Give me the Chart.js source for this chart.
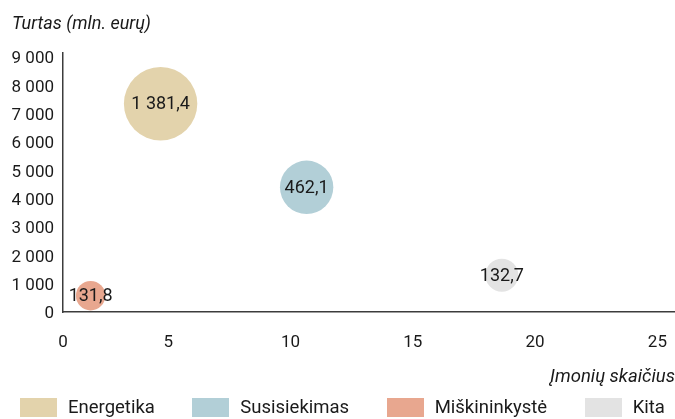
<!DOCTYPE html>
<html lang="lt">
<head>
<meta charset="utf-8">
<title>Turtas ir įmonių skaičius</title>
<script src="https://cdn.jsdelivr.net/npm/chart.js@4.4.1/dist/chart.umd.min.js"></script>
<style>
html, body { margin: 0; padding: 0; background: #ffffff; overflow: hidden; }
#wrap { position: relative; width: 675px; height: 419px; }
#legend {
    position: absolute; left: 20px; top: 398px;
    display: flex; gap: 37.5px;
    font-family: Roboto, sans-serif;
    font-size: 18.5px; color: #1a1a1a;
    white-space: nowrap;
}
.item { display: flex; align-items: center; height: 19px; }
.box { width: 37px; height: 19px; }
.item span { margin-left: 11px; line-height: 19px; }
</style>
</head>
<body>
<div id="wrap">
    <canvas id="chart"></canvas>
    <div id="legend"></div>
</div>
<script>
// ===========================================
// DATA
// ===========================================

const sectors = ["Energetika", "Susisiekimas", "Miškininkystė", "Kita"];

// x - įmonių skaičius, y - turtas (mln. eurų)
const companies = [4.69, 10.66, 1.83, 18.64];
const assets = [7350, 4400, 575, 1300];

// value printed inside the bubble
const bubbleValues = [1381.4, 462.1, 131.8, 132.7];
const bubbleRadius = [36.7, 26.7, 14.7, 16.5];

const colors = ["#e3d3ac", "#b2cfd7", "#e8a78f", "#e3e3e3"];

const yTicks = [0, 1000, 2000, 3000, 4000, 5000, 6000, 7000, 8000, 9000];
const xTicks = [0, 5, 10, 15, 20, 25];

const FONT = "Roboto, sans-serif";
const TEXT = "#1a1a1a";

// x axis starts a bit right of zero in the original
const X_MIN = 0.7;
const X_MAX = 25.72;

// ===========================================
// HELPERS
// ===========================================

function groupThousands(str){
    return str.replace(/\B(?=(\d{3})+(?!\d))/g, " ");
}

function formatValue(v){
    const parts = v.toFixed(1).split(".");
    return groupThousands(parts[0]) + "," + parts[1];
}

// ===========================================
// BUBBLE LABELS
// ===========================================

const bubbleLabels = {
    id: "bubbleLabels",
    afterDatasetsDraw(chart){
        const ctx = chart.ctx;
        ctx.save();
        ctx.font = "18px " + FONT;
        ctx.fillStyle = TEXT;
        ctx.textAlign = "center";
        ctx.textBaseline = "middle";
        chart.data.datasets.forEach((ds, i) => {
            const pt = chart.getDatasetMeta(i).data[0];
            ctx.fillText(formatValue(bubbleValues[i]), pt.x, pt.y + 1);
        });
        ctx.restore();
    }
};

// ===========================================
// CHART
// ===========================================

const datasets = sectors.map((name, i) => ({
    label: name,
    data: [{ x: companies[i], y: assets[i], r: bubbleRadius[i] }],
    backgroundColor: colors[i],
    borderWidth: 0,
    hoverBorderWidth: 0
}));

const chart = new Chart(document.getElementById("chart"), {
    type: "bubble",
    data: { datasets: datasets },
    plugins: [bubbleLabels],
    options: {
        responsive: true,
        maintainAspectRatio: false,
        animation: false,
        layout: {
            autoPadding: false,
            padding: { left: 12, right: 0, top: 0, bottom: 30 }
        },
        plugins: {
            legend: { display: false },
            tooltip: { enabled: false },
            title: {
                display: true,
                text: "Turtas (mln. eurų)",
                align: "start",
                color: TEXT,
                font: { family: FONT, size: 18, style: "italic", weight: "normal" },
                padding: { top: 14, bottom: 17.4 }
            }
        },
        scales: {
            x: {
                type: "linear",
                min: X_MIN,
                max: X_MAX,
                afterBuildTicks: (scale) => {
                    scale.ticks = xTicks.map(v => ({ value: Math.max(v, X_MIN) }));
                },
                afterFit: (scale) => {
                    scale.height = 77;
                    // labels do not reach the edges, no side padding needed
                    scale.paddingLeft = 0;
                    scale.paddingRight = 0;
                },
                grid: { display: false, drawTicks: false },
                border: { display: true, color: "#3c3c3c", width: 1.5 },
                ticks: {
                    color: TEXT,
                    padding: 21,
                    maxRotation: 0,
                    font: { family: FONT, size: 17 },
                    callback: (value, index) => String(xTicks[index])
                },
                title: {
                    display: true,
                    text: "Įmonių skaičius",
                    align: "end",
                    color: TEXT,
                    font: { family: FONT, size: 18.5, style: "italic" },
                    padding: { top: 0, bottom: 1 }
                }
            },
            y: {
                type: "linear",
                min: 0,
                max: 9140,
                afterBuildTicks: (scale) => {
                    scale.ticks = yTicks.map(v => ({ value: v }));
                },
                afterFit: (scale) => { scale.width = 51; },
                grid: { display: false, drawTicks: false },
                border: { display: true, color: "#3c3c3c", width: 1.5 },
                ticks: {
                    color: TEXT,
                    padding: 9,
                    labelOffset: 2,
                    font: { family: FONT, size: 17 },
                    callback: (value) => groupThousands(String(value))
                }
            }
        }
    }
});

// ===========================================
// LEGEND
// ===========================================

const legend = document.getElementById("legend");

sectors.forEach((name, i) => {
    const item = document.createElement("div");
    item.className = "item";
    item.innerHTML = `<div class="box" style="background:${colors[i]}"></div><span>${name}</span>`;
    legend.appendChild(item);
});
</script>
</body>
</html>
